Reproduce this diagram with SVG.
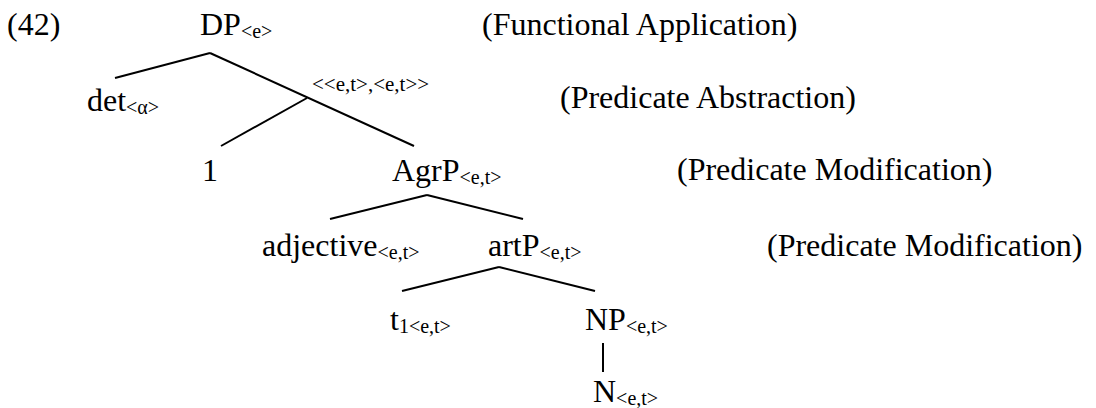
<svg xmlns="http://www.w3.org/2000/svg" width="1096" height="408" viewBox="0 0 1096 408">
<style>
text{font-family:"Liberation Serif","Times New Roman",serif;fill:#000;}
.m{font-size:32px;}
.s{font-size:20px;}
.lab{font-size:21px;}
.e{stroke:#000;stroke-width:2;fill:none;}
</style>
<rect width="1096" height="408" fill="#fff"/>
<text class="m" x="7" y="35">(42)</text>
<g id="connectors">
<line class="e" x1="210" y1="53" x2="115" y2="78"/>
<line class="e" x1="210" y1="53" x2="414" y2="146"/>
<line class="e" x1="307" y1="98" x2="221" y2="146"/>
<line class="e" x1="427" y1="195" x2="330" y2="219"/>
<line class="e" x1="427" y1="195" x2="523" y2="219"/>
<line class="e" x1="499" y1="267" x2="402" y2="291"/>
<line class="e" x1="499" y1="267" x2="595" y2="291"/>
<line class="e" x1="603" y1="343" x2="603" y2="372"/>
</g>
<g id="n-dp"><text class="m" x="200" y="35">DP<tspan class="s" dy="3">&lt;e&gt;</tspan></text></g>
<g id="n-det"><text class="m" x="87" y="111">det<tspan class="s" dy="3">&lt;α&gt;</tspan></text></g>
<g id="n-lambda"><text class="lab" x="312" y="91">&lt;&lt;e,t&gt;,&lt;e,t&gt;&gt;</text></g>
<g id="n-1"><text class="m" x="202" y="181">1</text></g>
<g id="n-agrp"><text class="m" x="392" y="181">AgrP<tspan class="s" dy="3">&lt;e,t&gt;</tspan></text></g>
<g id="n-adj"><text class="m" x="262" y="256">adjective<tspan class="s" dy="3">&lt;e,t&gt;</tspan></text></g>
<g id="n-artp"><text class="m" x="488" y="256">artP<tspan class="s" dy="3">&lt;e,t&gt;</tspan></text></g>
<g id="n-t1"><text class="m" x="390" y="330">t<tspan class="s" dy="3">1&lt;e,t&gt;</tspan></text></g>
<g id="n-np"><text class="m" x="585" y="330">NP<tspan class="s" dy="3">&lt;e,t&gt;</tspan></text></g>
<g id="n-n"><text class="m" x="593" y="402">N<tspan class="s" dy="3">&lt;e,t&gt;</tspan></text></g>
<g id="rules">
<text class="m" x="482" y="35">(Functional Application)</text>
<text class="m" x="560" y="108">(Predicate Abstraction)</text>
<text class="m" x="677" y="180">(Predicate Modification)</text>
<text class="m" x="767" y="256">(Predicate Modification)</text>
</g>
</svg>
